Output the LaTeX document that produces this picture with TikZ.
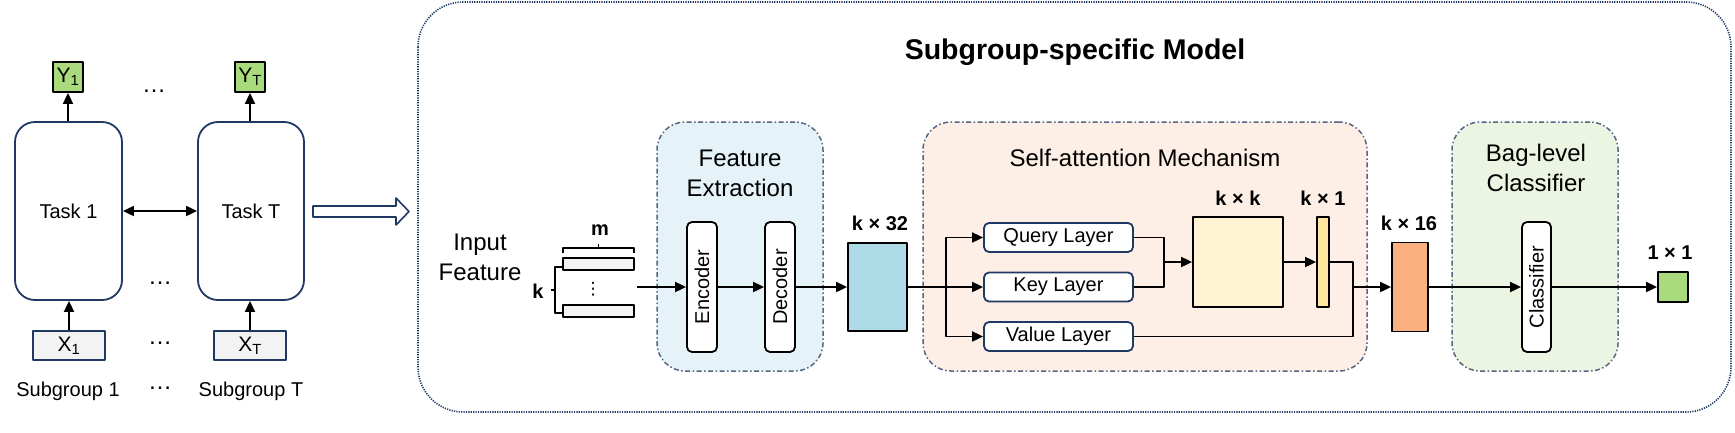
\documentclass[tikz,border=0pt]{standalone}
\usepackage{fontspec}
\setmainfont{Liberation Sans}
\newfontfamily\djv{DejaVu Sans}
\usetikzlibrary{arrows.meta}
\definecolor{navy}{HTML}{203864}
\definecolor{grpline}{HTML}{566582}
\definecolor{feblue}{HTML}{E5F3F8}
\definecolor{sapeach}{HTML}{FDEEE6}
\definecolor{bcgreen}{HTML}{EBF5E2}
\definecolor{kblue}{HTML}{ADDBE8}
\definecolor{kcream}{HTML}{FFF3D3}
\definecolor{kyellow}{HTML}{FFE7A0}
\definecolor{korange}{HTML}{FBB07F}
\definecolor{ygreen}{HTML}{A9DA7C}
\definecolor{xgray}{HTML}{F3F3F3}
\begin{document}
\begin{tikzpicture}[x=1pt,y=-1pt,line join=round,
  arr/.style={line width=1.8pt,-{Triangle[length=11pt,width=10pt]}},
  darr/.style={line width=1.8pt,{Triangle[length=11pt,width=10pt]}-{Triangle[length=11pt,width=10pt]}},
  ln/.style={line width=1.8pt},
  taskbox/.style={draw=navy,line width=1.8pt,rounded corners=20pt,fill=white,inner sep=0pt,
    minimum width=107pt,minimum height=178pt,font=\fontsize{20}{24}\selectfont},
  ybox/.style={draw=black,line width=1.8pt,fill=ygreen,inner sep=0pt,minimum width=30pt,minimum height=30pt,
    font=\fontsize{21}{24}\selectfont},
  xbox/.style={draw=navy,line width=1.8pt,fill=xgray,inner sep=0pt,minimum width=72pt,minimum height=29pt,
    font=\fontsize{21}{24}\selectfont},
  lbl/.style={font=\fontsize{20}{24}\selectfont,inner sep=1pt},
  big/.style={font=\fontsize{24}{30}\selectfont,align=center,inner sep=1pt},
  dim/.style={font=\fontsize{20}{24}\selectfont\bfseries,inner sep=1pt},
  group/.style={draw=grpline,line width=1.5pt,dash pattern=on 5pt off 2.5pt on 1.5pt off 2.5pt,
    rounded corners=28pt,inner sep=0pt,minimum height=249pt},
  vbox/.style={draw=black,line width=1.8pt,fill=white,rounded corners=5pt,inner sep=0pt,
    minimum width=30pt,minimum height=130pt,font=\fontsize{20}{24}\selectfont},
  layer/.style={draw=navy,line width=1.8pt,fill=white,rounded corners=5pt,inner sep=0pt,
    minimum width=149pt,minimum height=29pt,font=\fontsize{20}{24}\selectfont},
  mat/.style={draw=black,line width=1.8pt,inner sep=0pt},
  dots/.style={font=\fontsize{24}{24}\selectfont,anchor=base,inner sep=1pt}
]
\useasboundingbox (0,0) rectangle (1735,432);

% ---------- left part ----------
\node[taskbox] (t1) at (68.5,211) {Task 1};
\node[taskbox,minimum width=106pt] (tT) at (251,211) {Task T};
\node[ybox] (y1) at (68,77) {Y\textsubscript{1}};
\node[ybox] (yT) at (250,77) {Y\textsubscript{T}};
\node[xbox] (x1) at (69,345.5) {X\textsubscript{1}};
\node[xbox] (xT) at (250,345.5) {X\textsubscript{T}};
\node[lbl] (s1) at (68,391) {Subgroup 1};
\node[lbl] (sT) at (251,391) {Subgroup T};

\draw[arr] (x1.north) -- (x1.north |- t1.south);
\draw[arr] (xT.north) -- (xT.north |- tT.south);
\draw[arr] (y1.south |- t1.north) -- (y1.south);
\draw[arr] (yT.south |- tT.north) -- (yT.south);
\draw[darr] (t1.east) -- (tT.west);

\node[dots] (d1) at (154,92) {…};
\node[dots] (d2) at (160,284) {…};
\node[dots] (d3) at (160,344) {…};
\node[dots] (d4) at (160,389) {…};

% hollow arrow
\draw[navy,line width=1.6pt,fill=white]
  (313,206) -- (396,206) -- (396,198) -- (409,211.5) -- (396,225) -- (396,217) -- (313,217) -- cycle;

% ---------- big model box ----------
\draw[navy,line width=1.6pt,dash pattern=on 1.2pt off 1.2pt,rounded corners=45pt]
  (418,2) rectangle (1731,412);
\node[font=\fontsize{28.5}{32}\selectfont\bfseries] (title) at (1075,52) {Subgroup-specific Model};

% groups
\node[group,fill=feblue,minimum width=166pt] (fe) at (740,246.5) {};
\node[group,fill=sapeach,minimum width=444pt] (sa) at (1145,246.5) {};
\node[group,fill=bcgreen,minimum width=166pt] (bc) at (1535,246.5) {};
\node[big] (fet) at (740,173.5) {Feature\\Extraction};
\node[big] (sat) at (1145,158) {Self-attention Mechanism};
\node[big] (bct) at (1536,168) {Bag-level\\Classifier};

% input feature
\node[big] (inft) at (480,257) {Input\\Feature};
\node[mat,fill=xgray,minimum width=71pt,minimum height=12pt] (r1) at (598.5,264) {};
\node[mat,fill=xgray,minimum width=71pt,minimum height=12pt] (r2) at (598.5,311) {};
\node[font=\djv\fontsize{17}{17}\selectfont,inner sep=0pt] (vd) at (593,289) {⋮};
\draw[line width=1.5pt] (563,253) -- (563,248) -- (634,248) -- (634,253);
\draw[line width=1.5pt] (598.5,248) -- (598.5,243.5);
\draw[line width=1.5pt] (562,267) -- (555,267) -- (555,313) -- (562,313);
\draw[line width=1.5pt] (555,290) -- (550.5,290);
\node[dim] (m) at (600,230) {m};
\node[dim] (k) at (538,291) {k};
\coordinate (inp) at (637,287);

% feature extraction
\node[vbox] (enc) at (702,287) {\rotatebox{90}{Encoder}};
\node[vbox] (dec) at (780,287) {\rotatebox{90}{Decoder}};
\node[mat,fill=kblue,minimum width=59pt,minimum height=88pt] (k32) at (877.5,287) {};
\node[dim] (k32t) at (880,223) {k × 32};

\draw[arr] (inp) -- (enc.west);
\draw[arr] (enc.east) -- (dec.west);
\draw[arr] (dec.east) -- (k32.west);

% self-attention
\node[layer] (q) at (1058.5,237.5) {Query Layer};
\node[layer] (kl) at (1058.5,287) {Key Layer};
\node[layer] (v) at (1058.5,336.5) {Value Layer};
\node[mat,fill=kcream,minimum width=90pt,minimum height=90pt] (kk) at (1238,262) {};
\node[dim] (kkt) at (1238,198) {k × k};
\node[mat,fill=kyellow,minimum width=12pt,minimum height=90pt] (bar) at (1323,262) {};
\node[dim] (bart) at (1323,198) {k × 1};

\coordinate (br) at (946,287);
\coordinate (mg) at (1164,262);
\coordinate (vm) at (1353,287);
\draw[ln] (k32.east) -- (br);
\draw[arr] (br) |- (q.west);
\draw[arr] (br) -- (kl.west);
\draw[arr] (br) |- (v.west);
\draw[ln] (q.east) -| (mg);
\draw[ln] (kl.east) -| (mg);
\draw[arr] (mg) -- (kk.west);
\draw[arr] (kk.east) -- (bar.west);
\draw[ln] (bar.east) -| (vm);
\draw[ln] (v.east) -| (vm);

% classifier
\node[mat,fill=korange,minimum width=36pt,minimum height=89pt] (k16) at (1410,287) {};
\node[dim] (k16t) at (1409,223) {k × 16};
\node[vbox,minimum width=29pt] (cls) at (1536.5,287) {\rotatebox{90}{Classifier}};
\node[mat,fill=ygreen,minimum width=30pt,minimum height=30pt] (out) at (1673,287) {};
\node[dim] (outt) at (1670,253) {1 × 1};

\draw[arr] (vm) -- (k16.west);
\draw[arr] (k16.east) -- (cls.west);
\draw[arr] (cls.east) -- (out.west);
\end{tikzpicture}
\end{document}
